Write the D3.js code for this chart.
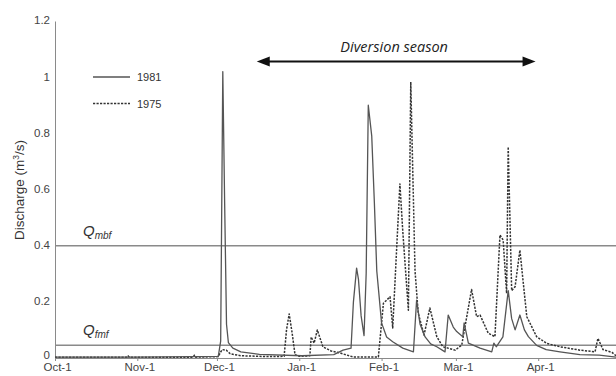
<!DOCTYPE html>
<html>
<head>
<meta charset="utf-8">
<script src="https://cdn.jsdelivr.net/npm/d3@7"></script>
<style>
  body { margin: 0; background: #fff; }
  svg { font-family: "Liberation Sans", Arial, sans-serif; }
  .axis text { fill: #444; font-size: 11.5px; }
  .axis path, .axis line { stroke: #8a8a8a; }
</style>
</head>
<body>
<svg id="chart" width="616" height="376"></svg>
<script>
// day offsets are counted from Oct-1
var seasonStart = new Date(1980, 9, 1);
var monthTicks = ["Oct-1", "Nov-1", "Dec-1", "Jan-1", "Feb-1", "Mar-1", "Apr-1"];
var yTicks = [0, 0.2, 0.4, 0.6, 0.8, 1, 1.2];

var days1981 = [0, 30, 61.5, 62.4, 63.2, 63.9, 64.6, 65.3, 67, 70, 77, 93, 105, 108.5, 111.5, 112.4, 113.6, 114.3, 115.3, 116.4,
    117.2, 118, 119.3, 120.3, 121.2, 123, 124.9, 127.2, 131, 135, 136.2, 137.5, 139.4, 141.5, 143.8, 146.9, 148.1, 150, 151.3,
    153.6, 154.1, 155.7, 160.1, 164.5, 165.3, 166.2, 168.7, 170.7, 172, 173.3, 175.1, 176.8, 178.3, 181.4, 185, 190.2, 197.7, 205, 211.3];
var flow1981 = [0.003, 0.003, 0.006, 0.06, 1.02, 0.55, 0.12, 0.055, 0.035, 0.022, 0.013, 0.008, 0.012, 0.028, 0.035, 0.2, 0.32, 0.28, 0.15, 0.08,
    0.3, 0.9, 0.79, 0.55, 0.31, 0.125, 0.075, 0.058, 0.035, 0.022, 0.206, 0.12, 0.075, 0.05, 0.04, 0.022, 0.153, 0.11, 0.094,
    0.076, 0.125, 0.053, 0.035, 0.022, 0.053, 0.04, 0.075, 0.24, 0.14, 0.1, 0.153, 0.1, 0.076, 0.045, 0.03, 0.022, 0.012, 0.01, 0.003];

var days1975 = [0, 27, 27.5, 28, 52, 52.5, 53, 61.5, 62.3, 63, 64.5, 66, 70, 80, 86.3, 87.2, 88.2, 89.3, 90.4, 92, 96, 96.5, 97.6, 98.8,
    100.9, 104, 107.3, 112.2, 121.8, 123.7, 124.8, 126.2, 127.2, 129.9, 131, 133.1, 134, 135.6, 136.8, 139, 141.2, 143.8, 146.1,
    150.7, 153.2, 156.9, 158.8, 160.1, 163.2, 165.7, 167.6, 168.8, 170.1, 170.7, 172, 173.3, 175.1, 177.7, 181.4, 185.2, 190.2,
    197.7, 203.4, 204.5, 206.4, 209.8, 211.3];
var flow1975 = [0.003, 0.003, 0.008, 0.003, 0.003, 0.01, 0.003, 0.005, 0.02, 0.03, 0.028, 0.015, 0.008, 0.005, 0.006, 0.1, 0.157, 0.09, 0.012, 0.006, 0.008, 0.075, 0.053, 0.1,
    0.04, 0.025, 0.018, 0.004, 0.004, 0.195, 0.205, 0.218, 0.107, 0.62, 0.45, 0.17, 0.983, 0.31, 0.16, 0.082, 0.178, 0.076, 0.04,
    0.028, 0.046, 0.244, 0.147, 0.153, 0.088, 0.076, 0.438, 0.42, 0.23, 0.752, 0.24, 0.254, 0.384, 0.147, 0.076, 0.052, 0.04,
    0.028, 0.022, 0.07, 0.03, 0.02, 0.008];

var thresholds = [{name: "mbf", value: 0.4}, {name: "fmf", value: 0.045}];
var diversionDays = [76, 181]; // Dec-16 .. Mar-31

var svg = d3.select("#chart");
var margin = {left: 55, right: 0, top: 21, bottom: 18};
var width = 616 - margin.left - margin.right;

function dayToDate(d) {
    return new Date(seasonStart.getTime() + d * 86400000);
}

var x = d3.scaleTime()
    .domain([seasonStart, dayToDate(211.3)])
    .range([margin.left, margin.left + width]);
var y = d3.scaleLinear()
    .domain([0, 1.2])
    .range([358, 21]);

var tickDates = monthTicks.map(function(t, i) { return new Date(1980, 9 + i, 1); });

// x axis
svg.append("g")
    .attr("class", "x-axis axis")
    .attr("transform", "translate(0," + y(0) + ")")
    .call(d3.axisBottom(x).tickValues(tickDates).tickSize(3).tickSizeOuter(0).tickPadding(2)
        .tickFormat(function(d, i) { return monthTicks[i]; }))
    .call(function(g) { g.selectAll("text").attr("dy", "0.66em").attr("dx", 2); });

// y axis
svg.append("g")
    .attr("class", "y-axis axis")
    .attr("transform", "translate(" + margin.left + ",0)")
    .call(d3.axisLeft(y).tickValues(yTicks).tickSize(0).tickPadding(5)
        .tickFormat(function(d) { return d3.format("~g")(d); }))
    .call(function(g) { g.selectAll(".tick text").attr("dy", function(d) { return d === 0 ? "0.05em" : "0.25em"; }); });

var yLabel = svg.append("text")
    .attr("transform", "translate(24,190) rotate(-90)")
    .attr("text-anchor", "middle")
    .attr("fill", "#333")
    .attr("font-size", 13.5)
    .text("Discharge (m");
yLabel.append("tspan").attr("baseline-shift", "super").attr("font-size", 8.5).text("3");
yLabel.append("tspan").text("/s)");

// threshold lines
svg.selectAll(".threshold")
    .data(thresholds)
    .join("line")
    .attr("class", "threshold")
    .attr("x1", margin.left).attr("x2", margin.left + width)
    .attr("y1", function(d) { return y(d.value); })
    .attr("y2", function(d) { return y(d.value); })
    .attr("stroke", "#8a8a8a")
    .attr("stroke-width", 1.5);

var qLabels = svg.selectAll(".qlabel")
    .data(thresholds)
    .join("text")
    .attr("class", "qlabel")
    .attr("x", 83)
    .attr("y", function(d) { return y(d.value) - 10; })
    .attr("font-style", "italic")
    .attr("fill", "#333")
    .attr("font-size", 15)
    .text("Q");
qLabels.append("tspan")
    .attr("font-size", 10)
    .attr("dy", 3)
    .text(function(d) { return d.name; });

// series
var series = [
    {name: "1981", days: days1981, flow: flow1981, dash: null, color: "#555", w: 1.3},
    {name: "1975", days: days1975, flow: flow1975, dash: "2.2,1.3", color: "#333", w: 1.5}
];

var line = d3.line()
    .x(function(d) { return x(dayToDate(d[0])); })
    .y(function(d) { return y(d[1]); });

svg.selectAll(".series")
    .data(series.slice().reverse())
    .join("path")
    .attr("class", "series")
    .attr("fill", "none")
    .attr("stroke", function(d) { return d.color; })
    .attr("stroke-width", function(d) { return d.w; })
    .attr("stroke-dasharray", function(d) { return d.dash; })
    .attr("stroke-linejoin", "round")
    .attr("d", function(d) { return line(d.days.map(function(v, i) { return [v, d.flow[i]]; })); });

// legend
var legend = svg.selectAll(".legend")
    .data(series)
    .join("g")
    .attr("class", "legend")
    .attr("transform", function(d, i) { return "translate(93," + (77 + i * 26.5) + ")"; });
legend.append("line")
    .attr("x1", 0).attr("x2", 37)
    .attr("stroke", function(d) { return d.color; })
    .attr("stroke-width", function(d) { return d.w; })
    .attr("stroke-dasharray", function(d) { return d.dash; });
legend.append("text")
    .attr("x", 44).attr("y", 4)
    .attr("font-size", 11)
    .attr("fill", "#333")
    .text(function(d) { return d.name; });

// diversion season arrow
var ax0 = x(dayToDate(diversionDays[0])), ax1 = x(dayToDate(diversionDays[1])), ay = 61.5;
svg.append("line")
    .attr("x1", ax0 + 8).attr("x2", ax1 - 8)
    .attr("y1", ay).attr("y2", ay)
    .attr("stroke", "#111")
    .attr("stroke-width", 2);
svg.selectAll(".arrowhead")
    .data([[ax0, 1], [ax1, -1]])
    .join("path")
    .attr("class", "arrowhead")
    .attr("fill", "#111")
    .attr("d", function(d) {
        return "M" + d[0] + "," + ay + " L" + (d[0] + d[1] * 13) + "," + (ay - 5) +
            " L" + (d[0] + d[1] * 13) + "," + (ay + 5) + " Z";
    });

svg.append("text")
    .attr("x", (ax0 + ax1) / 2 - 2)
    .attr("y", 52)
    .attr("text-anchor", "middle")
    .attr("font-style", "italic")
    .attr("font-family", "'Open Sans', sans-serif")
    .attr("font-size", 14.5)
    .attr("fill", "#222")
    .text("Diversion season");
</script>
</body>
</html>
